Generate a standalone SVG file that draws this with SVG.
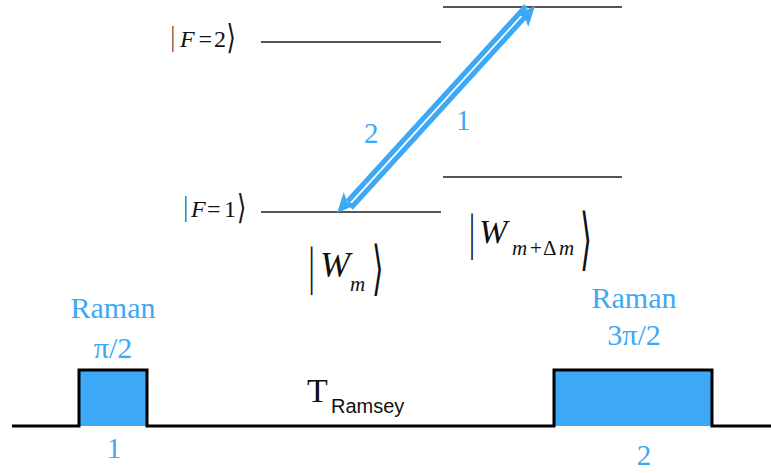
<svg xmlns="http://www.w3.org/2000/svg" width="771" height="473" viewBox="0 0 771 473">
<style>
.lvl{stroke:#555;stroke-width:2;fill:none}
.blue{fill:#3DA8F5}
.ser{fill:#111}
.arr{stroke:#3DA8F5;stroke-width:5;fill:none}
.head{fill:#3DA8F5}
</style>
<rect width="771" height="473" fill="#fff"/>
<g id="levels">
<line class="lvl" x1="443" y1="7" x2="622" y2="7"/>
<line class="lvl" x1="261" y1="42" x2="441" y2="42"/>
<line class="lvl" x1="443" y1="177" x2="622" y2="177"/>
<line class="lvl" x1="261" y1="212" x2="441" y2="212"/>
</g>
<g id="ketF2">
<text class="ser" font-family="Liberation Serif" font-size="30" transform="translate(171,46.4) scale(0.6,1)">|</text>
<text class="ser" font-family="Liberation Serif" font-size="24" y="47"><tspan x="180" font-style="italic">F</tspan><tspan x="198.5">=</tspan><tspan x="214">2</tspan></text>
<text class="ser" font-family="DejaVu Serif" font-size="34" transform="translate(226.5,48.8) scale(0.7,1)">⟩</text>
</g>
<g id="ketF1">
<text class="ser" font-family="Liberation Serif" font-size="30" transform="translate(184,216.4) scale(0.6,1)">|</text>
<text class="ser" font-family="Liberation Serif" font-size="24" y="217"><tspan x="191" font-style="italic">F</tspan><tspan x="207">=</tspan><tspan x="224">1</tspan></text>
<text class="ser" font-family="DejaVu Serif" font-size="34" transform="translate(237,218.8) scale(0.7,1)">⟩</text>
</g>
<g id="ketWm">
<text class="ser" font-family="Liberation Serif" font-size="52" transform="translate(308.5,283.6) scale(0.6,1)">|</text>
<text class="ser" font-family="Liberation Serif" font-style="italic" font-size="36" x="320" y="277">W</text>
<text class="ser" font-family="Liberation Serif" font-style="italic" font-size="21" x="350" y="291">m</text>
<text class="ser" font-family="DejaVu Serif" font-size="59" transform="translate(372,287.8) scale(0.5,1)">⟩</text>
</g>
<g id="ketWmdm">
<text class="ser" font-family="Liberation Serif" font-size="50" transform="translate(469,249) scale(0.6,1)">|</text>
<text class="ser" font-family="Liberation Serif" font-style="italic" font-size="34" x="479" y="243">W</text>
<text class="ser" font-family="Liberation Serif" font-size="21" y="255"><tspan x="512" font-style="italic">m</tspan><tspan x="530">+</tspan><tspan x="543">Δ</tspan><tspan x="559" font-style="italic">m</tspan></text>
<text class="ser" font-family="DejaVu Serif" font-size="68" transform="translate(580,261.7) scale(0.45,1)">⟩</text>
</g>
<g id="arrowLabels">
<text class="blue" font-family="Liberation Serif" font-size="29" x="456" y="130">1</text>
<text class="blue" font-family="Liberation Serif" font-size="29" x="364" y="143">2</text>
</g>
<g id="pulse1Labels">
<text class="blue" font-family="Liberation Serif" font-size="30" x="113" y="318" text-anchor="middle">Raman</text>
<text class="blue" font-family="Liberation Serif" font-size="30" x="113" y="358" text-anchor="middle">π/2</text>
<text class="blue" font-family="Liberation Serif" font-size="29" x="114" y="458" text-anchor="middle">1</text>
</g>
<g id="pulse2Labels">
<text class="blue" font-family="Liberation Serif" font-size="30" x="634" y="308" text-anchor="middle">Raman</text>
<text class="blue" font-family="Liberation Serif" font-size="30" x="634" y="345" text-anchor="middle">3π/2</text>
<text class="blue" font-family="Liberation Serif" font-size="29" x="644" y="465" text-anchor="middle">2</text>
</g>
<g id="tramsey">
<text class="ser" font-family="Liberation Serif" font-size="34" x="307" y="402">T</text>
<text class="ser" font-family="Liberation Sans" font-size="20" x="331" y="413">Ramsey</text>
</g>
<g id="connectors">
<line class="arr" x1="351" y1="208" x2="525.5" y2="16.5"/>
<polygon class="head" points="535,6 528.2,26.9 524.9,17.1 514.8,14.7"/>
<line class="arr" x1="526" y1="6" x2="347.5" y2="201.5"/>
<polygon class="head" points="337,213 343.8,192.1 347.1,201.9 357.2,204.3"/>
</g>
<g id="pulses">
<rect x="79" y="370" width="68" height="56" fill="#3DA8F5"/>
<rect x="554" y="370" width="158" height="56" fill="#3DA8F5"/>
<path d="M12,426 H79 V370 H147 V426 H554 V370 H712 V426 H771" fill="none" stroke="#000" stroke-width="3"/>
</g>
</svg>
